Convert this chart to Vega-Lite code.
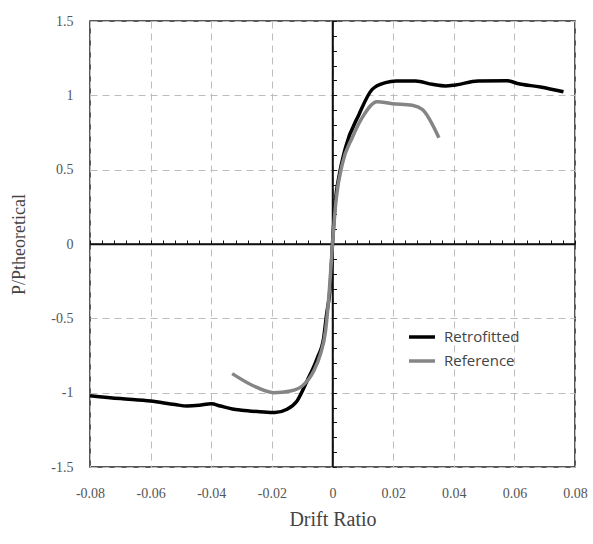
{
  "$schema": "https://vega.github.io/schema/vega-lite/v6.json",
  "width": 485,
  "height": 446,
  "autosize": "none",
  "padding": {"left": 90, "top": 21, "right": 18, "bottom": 77},
  "background": "white",
  "config": {
    "view": {"stroke": "#222", "strokeWidth": 1.5},
    "axis": {
      "labelFont": "Liberation Serif",
      "labelFontSize": 14,
      "labelColor": "#555",
      "labelFlush": false,
      "titleFont": "Liberation Serif",
      "titleFontWeight": "normal",
      "titleColor": "#444",
      "titleFontSize": 20
    }
  },
  "datasets": {
    "curves": [
      {"drift": -0.08, "ratio": -1.02, "series": "Retrofitted"},
      {"drift": -0.07, "ratio": -1.04, "series": "Retrofitted"},
      {"drift": -0.06, "ratio": -1.056, "series": "Retrofitted"},
      {"drift": -0.052, "ratio": -1.08, "series": "Retrofitted"},
      {"drift": -0.048, "ratio": -1.09, "series": "Retrofitted"},
      {"drift": -0.044, "ratio": -1.085, "series": "Retrofitted"},
      {"drift": -0.04, "ratio": -1.074, "series": "Retrofitted"},
      {"drift": -0.037, "ratio": -1.09, "series": "Retrofitted"},
      {"drift": -0.033, "ratio": -1.11, "series": "Retrofitted"},
      {"drift": -0.03, "ratio": -1.118, "series": "Retrofitted"},
      {"drift": -0.024, "ratio": -1.128, "series": "Retrofitted"},
      {"drift": -0.019, "ratio": -1.134, "series": "Retrofitted"},
      {"drift": -0.015, "ratio": -1.112, "series": "Retrofitted"},
      {"drift": -0.0117, "ratio": -1.056, "series": "Retrofitted"},
      {"drift": -0.0084, "ratio": -0.921, "series": "Retrofitted"},
      {"drift": -0.005, "ratio": -0.765, "series": "Retrofitted"},
      {"drift": -0.0029, "ratio": -0.63, "series": "Retrofitted"},
      {"drift": -0.002, "ratio": -0.48, "series": "Retrofitted"},
      {"drift": -0.0007, "ratio": -0.27, "series": "Retrofitted"},
      {"drift": 0, "ratio": 0, "series": "Retrofitted"},
      {"drift": 0.001, "ratio": 0.3, "series": "Retrofitted"},
      {"drift": 0.0021, "ratio": 0.45, "series": "Retrofitted"},
      {"drift": 0.0043, "ratio": 0.65, "series": "Retrofitted"},
      {"drift": 0.0087, "ratio": 0.87, "series": "Retrofitted"},
      {"drift": 0.0131, "ratio": 1.04, "series": "Retrofitted"},
      {"drift": 0.0175, "ratio": 1.085, "series": "Retrofitted"},
      {"drift": 0.021, "ratio": 1.096, "series": "Retrofitted"},
      {"drift": 0.0274, "ratio": 1.096, "series": "Retrofitted"},
      {"drift": 0.0329, "ratio": 1.074, "series": "Retrofitted"},
      {"drift": 0.0373, "ratio": 1.063, "series": "Retrofitted"},
      {"drift": 0.0406, "ratio": 1.07, "series": "Retrofitted"},
      {"drift": 0.048, "ratio": 1.096, "series": "Retrofitted"},
      {"drift": 0.0577, "ratio": 1.098, "series": "Retrofitted"},
      {"drift": 0.061, "ratio": 1.08, "series": "Retrofitted"},
      {"drift": 0.0686, "ratio": 1.056, "series": "Retrofitted"},
      {"drift": 0.0762, "ratio": 1.024, "series": "Retrofitted"},
      {"drift": -0.0331, "ratio": -0.872, "series": "Reference"},
      {"drift": -0.026, "ratio": -0.955, "series": "Reference"},
      {"drift": -0.0194, "ratio": -1.0, "series": "Reference"},
      {"drift": -0.0139, "ratio": -0.989, "series": "Reference"},
      {"drift": -0.01, "ratio": -0.955, "series": "Reference"},
      {"drift": -0.0062, "ratio": -0.854, "series": "Reference"},
      {"drift": -0.004, "ratio": -0.742, "series": "Reference"},
      {"drift": -0.0023, "ratio": -0.585, "series": "Reference"},
      {"drift": -0.001, "ratio": -0.3, "series": "Reference"},
      {"drift": 0, "ratio": 0, "series": "Reference"},
      {"drift": 0.0012, "ratio": 0.3, "series": "Reference"},
      {"drift": 0.0032, "ratio": 0.536, "series": "Reference"},
      {"drift": 0.0065, "ratio": 0.715, "series": "Reference"},
      {"drift": 0.0098, "ratio": 0.85, "series": "Reference"},
      {"drift": 0.0147, "ratio": 0.957, "series": "Reference"},
      {"drift": 0.0197, "ratio": 0.944, "series": "Reference"},
      {"drift": 0.0263, "ratio": 0.933, "series": "Reference"},
      {"drift": 0.0296, "ratio": 0.906, "series": "Reference"},
      {"drift": 0.0351, "ratio": 0.715, "series": "Reference"}
    ],
    "origin": [{"drift": 0, "ratio": 0}]
  },
  "resolve": {"axis": {"x": "independent", "y": "independent"}},
  "layer": [
    {
      "data": {"name": "origin"},
      "mark": {"type": "rule", "color": "#111", "strokeWidth": 1.5},
      "encoding": {
        "x": {
          "field": "drift",
          "type": "quantitative",
          "scale": {"domain": [-0.08, 0.08], "nice": false, "zero": false},
          "axis": {
            "orient": "top",
            "offset": -223,
            "title": null,
            "labels": false,
            "grid": false,
            "values": [-0.08, -0.076, -0.072, -0.068, -0.064, -0.06, -0.056, -0.052, -0.048, -0.044, -0.04, -0.036, -0.032, -0.028, -0.024, -0.02, -0.016, -0.012, -0.008, -0.004, 0, 0.004, 0.008, 0.012, 0.016, 0.02, 0.024, 0.028, 0.032, 0.036, 0.04, 0.044, 0.048, 0.052, 0.056, 0.06, 0.064, 0.068, 0.072, 0.076, 0.08],
            "domain": true,
            "domainColor": "#111",
            "domainWidth": 1.5,
            "ticks": true,
            "tickColor": "#111",
            "tickSize": 4,
            "tickWidth": 1
          }
        }
      }
    },
    {
      "data": {"name": "origin"},
      "mark": {"type": "rule", "color": "#111", "strokeWidth": 1.5},
      "encoding": {
        "y": {
          "field": "ratio",
          "type": "quantitative",
          "scale": {"domain": [-1.5, 1.5], "nice": false, "zero": false},
          "axis": {
            "orient": "right",
            "offset": -242.5,
            "title": null,
            "labels": false,
            "grid": false,
            "values": [-1.5, -1.4, -1.3, -1.2, -1.1, -1, -0.9, -0.8, -0.7, -0.6, -0.5, -0.4, -0.3, -0.2, -0.1, 0, 0.1, 0.2, 0.3, 0.4, 0.5, 0.6, 0.7, 0.8, 0.9, 1, 1.1, 1.2, 1.3, 1.4, 1.5],
            "domain": true,
            "domainColor": "#111",
            "domainWidth": 1.5,
            "ticks": true,
            "tickColor": "#111",
            "tickSize": 4,
            "tickWidth": 1
          }
        }
      }
    },
    {
      "data": {"name": "curves"},
      "mark": {"type": "line", "strokeWidth": 3.5, "interpolate": "monotone"},
      "encoding": {
        "x": {
          "field": "drift",
          "type": "quantitative",
          "scale": {"domain": [-0.08, 0.08], "nice": false, "zero": false},
          "axis": {
            "orient": "bottom",
            "title": "Drift Ratio",
            "values": [-0.08, -0.06, -0.04, -0.02, 0, 0.02, 0.04, 0.06, 0.08],
            "format": "~g",
            "labelExpr": "replace(datum.label, '\u2212', '-')",
            "grid": true,
            "gridDash": [7, 5],
            "gridColor": "#bdbdbd",
            "gridWidth": 1,
            "ticks": false,
            "tickSize": 0,
            "domain": false,
            "labelPadding": 19,
            "titlePadding": 9
          }
        },
        "y": {
          "field": "ratio",
          "type": "quantitative",
          "scale": {"domain": [-1.5, 1.5], "nice": false, "zero": false},
          "axis": {
            "orient": "left",
            "title": "P/Ptheoretical",
            "titleFontSize": 18,
            "values": [-1.5, -1, -0.5, 0, 0.5, 1, 1.5],
            "format": "~g",
            "labelExpr": "replace(datum.label, '\u2212', '-')",
            "grid": true,
            "gridDash": [7, 5],
            "gridColor": "#bdbdbd",
            "gridWidth": 1,
            "ticks": false,
            "tickSize": 0,
            "domain": false,
            "labelPadding": 17,
            "titlePadding": 22
          }
        },
        "color": {
          "field": "series",
          "type": "nominal",
          "scale": {"domain": ["Retrofitted", "Reference"], "range": ["#000000", "#858585"]},
          "legend": {
            "orient": "none",
            "legendX": 317,
            "legendY": 301,
            "title": null,
            "padding": 0,
            "symbolType": "stroke",
            "symbolSize": 676,
            "symbolStrokeWidth": 3.5,
            "labelFont": "Open Sans",
            "labelFontSize": 15,
            "labelColor": "#444",
            "labelOffset": 7,
            "rowPadding": 1
          }
        }
      }
    }
  ]
}
